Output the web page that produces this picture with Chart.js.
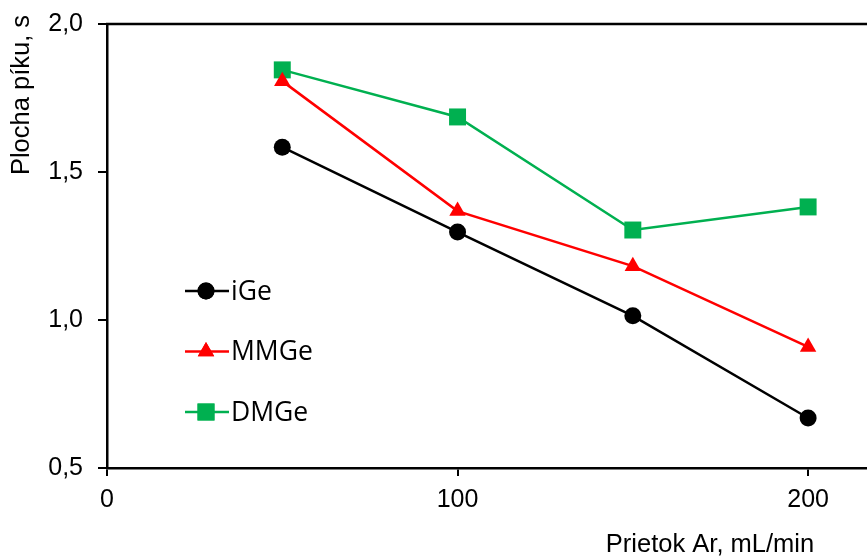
<!DOCTYPE html>
<html><head><meta charset="utf-8">
<script src="https://cdn.jsdelivr.net/npm/chart.js@4/dist/chart.umd.min.js"></script>
<style>html,body{margin:0;padding:0;background:#fff;overflow:hidden}#wrap{width:867px;height:559px}</style>
</head><body><div id="wrap"><canvas id="c" width="867" height="559"></canvas></div>
<script>
const flowRates = [50, 100, 150, 200];
const iGe = [1.584, 1.297, 1.014, 0.669];
const MMGe = [1.807, 1.368, 1.182, 0.909];
const DMGe = [1.845, 1.686, 1.304, 1.382];
const xTicks = [0, 100, 200];
const yTicks = [0.5, 1.0, 1.5, 2.0];
const seriesNames = ['iGe', 'MMGe', 'DMGe'];
const xTitle = 'Prietok Ar, mL/min';
const yTitle = 'Plocha píku, s';

const colors = ['#000000', '#ff0000', '#00b050'];
const styles = ['circle', 'triangle', 'rect'];
const radii = [8.5, 9.5, 12];
const seriesData = [iGe, MMGe, DMGe];

const datasets = seriesNames.map((n, i) => ({
  label: n,
  data: flowRates.map((x, j) => ({x: x, y: seriesData[i][j]})),
  borderColor: colors[i],
  backgroundColor: colors[i],
  pointBackgroundColor: colors[i],
  pointBorderColor: colors[i],
  pointStyle: styles[i],
  pointRadius: radii[i],
  pointBorderWidth: 0,
  borderWidth: 2.5,
  tension: 0,
  clip: false
}));

const extras = {
  id: 'extras',
  afterDraw(chart) {
    const ctx = chart.ctx;
    const a = chart.chartArea;
    ctx.save();
    ctx.strokeStyle = '#000';
    ctx.lineWidth = 2.5;
    ctx.beginPath();
    ctx.moveTo(a.left - 1, a.top);
    ctx.lineTo(a.right, a.top);
    ctx.stroke();
    ctx.fillStyle = '#000';
    ctx.font = '25.5px "Liberation Sans", Arial, sans-serif';
    ctx.textAlign = 'center';
    ctx.textBaseline = 'middle';
    ctx.fillText(xTitle, 710, 545);
    ctx.save();
    ctx.translate(22, 95);
    ctx.rotate(-Math.PI / 2);
    ctx.fillText(yTitle, 0, 0);
    ctx.restore();
    ctx.font = '26.5px "Open Sans", "Liberation Sans", sans-serif';
    ctx.textAlign = 'left';
    chart.data.datasets.forEach((ds, i) => {
      const y = 291 + i * 60.5;
      ctx.strokeStyle = ds.borderColor;
      ctx.lineWidth = 2.5;
      ctx.beginPath();
      ctx.moveTo(185, y);
      ctx.lineTo(229, y);
      ctx.stroke();
      ctx.fillStyle = ds.pointBackgroundColor;
      Chart.helpers.drawPoint(ctx, {pointStyle: ds.pointStyle, radius: ds.pointRadius, rotation: 0, borderWidth: 0}, 206, y);
      ctx.fill();
      ctx.fillStyle = '#000';
      ctx.fillText(ds.label, 231, y + 1);
    });
    ctx.restore();
  }
};

const tickFont = {family: '"Liberation Sans", Arial, sans-serif', size: 25};

new Chart(document.getElementById('c'), {
  type: 'line',
  data: {datasets},
  plugins: [extras],
  options: {
    responsive: false,
    animation: false,
    devicePixelRatio: 1,
    layout: {autoPadding: false, padding: {top: 24, right: 0, left: 0, bottom: 0}},
    plugins: {legend: {display: false}, tooltip: {enabled: false}},
    scales: {
      x: {
        type: 'linear',
        min: 0,
        max: 216.8,
        afterBuildTicks: s => { s.ticks = xTicks.map(v => ({value: v})); },
        afterFit: s => { s.height = 91; s.paddingLeft = 0; s.paddingRight = 0; },
        ticks: {font: tickFont, color: '#000', padding: 9, maxRotation: 0, callback: v => String(v)},
        grid: {display: true, drawOnChartArea: false, drawTicks: true, tickLength: 8, color: '#000', lineWidth: 2},
        border: {display: true, color: '#000', width: 2.5}
      },
      y: {
        type: 'linear',
        min: 0.5,
        max: 2.0,
        afterBuildTicks: s => { s.ticks = yTicks.map(v => ({value: v})); },
        afterFit: s => { s.width = 107; s.paddingTop = 0; s.paddingBottom = 0; },
        ticks: {font: tickFont, color: '#000', padding: 15, callback: v => v.toFixed(1).replace('.', ',')},
        grid: {display: true, drawOnChartArea: false, drawTicks: true, tickLength: 9, color: '#000', lineWidth: 2},
        border: {display: true, color: '#000', width: 2.5}
      }
    }
  }
});
</script></body></html>
